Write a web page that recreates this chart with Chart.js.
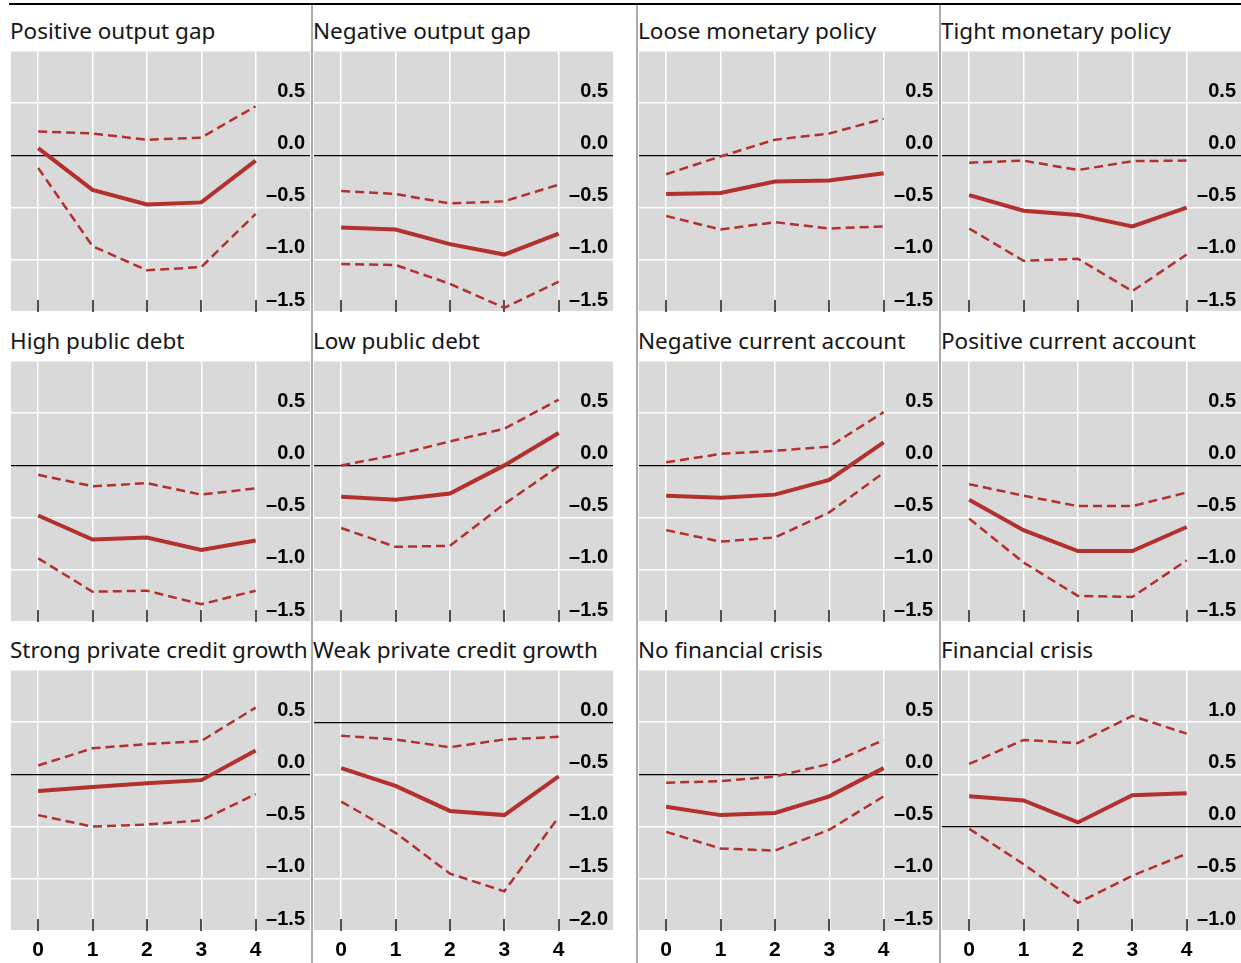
<!DOCTYPE html>
<html><head><meta charset="utf-8">
<script src="https://cdn.jsdelivr.net/npm/chart.js@4.4.1/dist/chart.umd.min.js"></script>
<style>
html,body{margin:0;padding:0;background:#fff;}
body{width:1241px;height:963px;position:relative;overflow:hidden;font-family:"Noto Sans",sans-serif;}
.title{position:absolute;font-size:22.5px;line-height:23px;color:#151515;white-space:nowrap;}
.panel{position:absolute;}
.sep{position:absolute;top:5px;height:958px;width:2px;background:#ababab;}
.rule{position:absolute;left:9px;top:3px;width:1232px;height:2px;background:#000;}
</style></head><body>
<div class="rule"></div>
<div id="root"></div>
<script>
// ---- data ----
const horizons = [0, 1, 2, 3, 4];
const xTickLabels = ['0', '1', '2', '3', '4'];
const panelTitles = [
  'Positive output gap', 'Negative output gap', 'Loose monetary policy', 'Tight monetary policy',
  'High public debt', 'Low public debt', 'Negative current account', 'Positive current account',
  'Strong private credit growth', 'Weak private credit growth', 'No financial crisis', 'Financial crisis'
];
const panelYMin = [-1.5, -1.5, -1.5, -1.5, -1.5, -1.5, -1.5, -1.5, -1.5, -2.0, -1.5, -1.0];
const panelYMax = [1.0, 1.0, 1.0, 1.0, 1.0, 1.0, 1.0, 1.0, 1.0, 0.5, 1.0, 1.5];

const posGapMid = [0.07, -0.33, -0.47, -0.45, -0.05];
const posGapHi  = [0.23, 0.21, 0.15, 0.17, 0.47];
const posGapLo  = [-0.12, -0.87, -1.10, -1.07, -0.56];

const negGapMid = [-0.69, -0.71, -0.85, -0.95, -0.75];
const negGapHi  = [-0.34, -0.37, -0.46, -0.44, -0.28];
const negGapLo  = [-1.04, -1.05, -1.23, -1.46, -1.21];

const looseMpMid = [-0.37, -0.36, -0.25, -0.24, -0.17];
const looseMpHi  = [-0.18, -0.01, 0.15, 0.21, 0.35];
const looseMpLo  = [-0.58, -0.71, -0.64, -0.70, -0.68];

const tightMpMid = [-0.38, -0.53, -0.57, -0.68, -0.50];
const tightMpHi  = [-0.07, -0.05, -0.14, -0.055, -0.05];
const tightMpLo  = [-0.70, -1.01, -0.99, -1.30, -0.95];

const highDebtMid = [-0.48, -0.71, -0.69, -0.81, -0.72];
const highDebtHi  = [-0.09, -0.20, -0.17, -0.28, -0.22];
const highDebtLo  = [-0.89, -1.21, -1.20, -1.33, -1.20];

const lowDebtMid = [-0.30, -0.33, -0.27, 0.0, 0.31];
const lowDebtHi  = [0.0, 0.10, 0.23, 0.35, 0.63];
const lowDebtLo  = [-0.60, -0.78, -0.77, -0.37, -0.01];

const negCaMid = [-0.29, -0.31, -0.28, -0.14, 0.22];
const negCaHi  = [0.03, 0.11, 0.14, 0.18, 0.51];
const negCaLo  = [-0.62, -0.73, -0.69, -0.45, -0.07];

const posCaMid = [-0.33, -0.62, -0.82, -0.82, -0.59];
const posCaHi  = [-0.18, -0.29, -0.39, -0.39, -0.26];
const posCaLo  = [-0.51, -0.93, -1.25, -1.26, -0.91];

const strongCreditMid = [-0.16, -0.12, -0.085, -0.055, 0.23];
const strongCreditHi  = [0.085, 0.25, 0.29, 0.32, 0.64];
const strongCreditLo  = [-0.39, -0.50, -0.48, -0.44, -0.19];

const weakCreditMid = [-0.44, -0.61, -0.85, -0.89, -0.52];
const weakCreditHi  = [-0.13, -0.165, -0.24, -0.165, -0.14];
const weakCreditLo  = [-0.76, -1.06, -1.45, -1.62, -0.91];

const noCrisisMid = [-0.31, -0.39, -0.37, -0.21, 0.06];
const noCrisisHi  = [-0.08, -0.065, -0.02, 0.10, 0.33];
const noCrisisLo  = [-0.55, -0.71, -0.73, -0.53, -0.21];

const crisisMid = [0.29, 0.25, 0.04, 0.30, 0.32];
const crisisHi  = [0.60, 0.83, 0.80, 1.06, 0.89];
const crisisLo  = [-0.02, -0.36, -0.73, -0.47, -0.26];

const panelSeries = [
  [posGapMid, posGapLo, posGapHi], [negGapMid, negGapLo, negGapHi],
  [looseMpMid, looseMpLo, looseMpHi], [tightMpMid, tightMpLo, tightMpHi],
  [highDebtMid, highDebtLo, highDebtHi], [lowDebtMid, lowDebtLo, lowDebtHi],
  [negCaMid, negCaLo, negCaHi], [posCaMid, posCaLo, posCaHi],
  [strongCreditMid, strongCreditLo, strongCreditHi], [weakCreditMid, weakCreditLo, weakCreditHi],
  [noCrisisMid, noCrisisLo, noCrisisHi], [crisisMid, crisisLo, crisisHi]
];

// ---- layout ----
const colLeft = [11, 314, 639, 942];
const titleLeft = [10, 313, 638, 941];
const rowTop = [51, 361, 670];
const titleBaseline = [39, 349, 658];
const sepX = [311, 636, 939];
const PW = 299, PH = 261, XLAB = 36;
const RED = '#b2302d';

const root = document.getElementById('root');
sepX.forEach(x => { const d = document.createElement('div'); d.className = 'sep'; d.style.left = x + 'px'; root.appendChild(d); });

const panelBg = {
  id: 'panelBg',
  beforeDraw(chart) {
    const { ctx, chartArea: a } = chart;
    ctx.save(); ctx.fillStyle = '#d9d9d9';
    ctx.fillRect(a.left, a.top, a.right - a.left, a.bottom - a.top);
    ctx.restore();
  }
};
const tickMarks = {
  id: 'tickMarks',
  beforeDatasetsDraw(chart) {
    const { ctx, chartArea: a, scales: { x } } = chart;
    ctx.save(); ctx.strokeStyle = '#1a1a1a'; ctx.lineWidth = 1.5;
    x.ticks.forEach(t => {
      const px = Math.round(x.getPixelForValue(t.value));
      ctx.beginPath(); ctx.moveTo(px, a.bottom - 12); ctx.lineTo(px, a.bottom); ctx.stroke();
    });
    ctx.restore();
  }
};

function fmt(v, max) {
  if (Math.abs(v - max) < 1e-9) return '';
  if (Math.abs(v) < 1e-9) return '0.0';
  return (v < 0 ? '\u2013' : '') + Math.abs(v).toFixed(1);
}

panelTitles.forEach((title, i) => {
  const r = Math.floor(i / 4), c = i % 4;
  const bottom = r === 2;
  const t = document.createElement('div');
  t.className = 'title'; t.textContent = title;
  t.style.left = titleLeft[c] + 'px';
  t.style.top = (titleBaseline[r] - 20.2) + 'px';
  root.appendChild(t);

  const h = PH + (bottom ? XLAB : 0);
  const box = document.createElement('div');
  box.className = 'panel';
  box.style.left = colLeft[c] + 'px'; box.style.top = rowTop[r] + 'px';
  box.style.width = PW + 'px'; box.style.height = h + 'px';
  const cv = document.createElement('canvas');
  cv.width = PW; cv.height = h; cv.style.width = PW + 'px'; cv.style.height = h + 'px';
  box.appendChild(cv); root.appendChild(box);

  const [mid, lo, hi] = panelSeries[i];
  const pts = arr => horizons.map((x, k) => ({ x, y: arr[k] }));
  const yMin = panelYMin[i], yMax = panelYMax[i];

  new Chart(cv, {
    type: 'line',
    data: {
      datasets: [
        { data: pts(lo), borderColor: RED, borderWidth: 2.5, borderDash: [9, 5], pointRadius: 0, tension: 0, order: 2 },
        { data: pts(hi), borderColor: RED, borderWidth: 2.5, borderDash: [9, 5], pointRadius: 0, tension: 0, order: 2 },
        { data: pts(mid), borderColor: RED, borderWidth: 4, pointRadius: 0, tension: 0, order: 1 }
      ]
    },
    options: {
      responsive: false, animation: false, devicePixelRatio: 1,
      layout: { padding: 0, autoPadding: false },
      plugins: { legend: { display: false }, tooltip: { enabled: false } },
      scales: {
        x: {
          type: 'linear', min: -0.5, max: 5,
          afterBuildTicks: s => { s.ticks = horizons.map(v => ({ value: v })); },
          afterFit: s => { s.height = bottom ? XLAB : 0; s.paddingLeft = 0; s.paddingRight = 0; s.paddingTop = 0; s.paddingBottom = 0; },
          ticks: {
            display: bottom, padding: 7, color: '#000', autoSkip: false, maxRotation: 0,
            font: { family: '"Liberation Sans", Arial, sans-serif', size: 21, weight: 'bold' },
            callback: v => { const k = horizons.indexOf(v); return k >= 0 ? xTickLabels[k] : ''; }
          },
          grid: { color: '#ffffff', lineWidth: 1.5, drawTicks: false },
          border: { display: false }
        },
        y: {
          type: 'linear', position: 'right', min: yMin, max: yMax,
          afterFit: s => { s.width = 0; s.paddingTop = 0; s.paddingBottom = 0; s.paddingLeft = 0; s.paddingRight = 0; },
          ticks: {
            stepSize: 0.5, mirror: true, padding: -5, labelOffset: -12, color: '#000', autoSkip: false,
            font: { family: '"Liberation Sans", Arial, sans-serif', size: 20, weight: 'bold' },
            callback: v => fmt(v, yMax)
          },
          grid: {
            color: c => (c.tick && Math.abs(c.tick.value) < 1e-9) ? '#000000' : '#ffffff',
            lineWidth: c => (c.tick && Math.abs(c.tick.value) < 1e-9) ? 1.2 : 1.5,
            drawTicks: false
          },
          border: { display: false }
        }
      }
    },
    plugins: [panelBg, tickMarks]
  });
});
</script>
</body></html>
